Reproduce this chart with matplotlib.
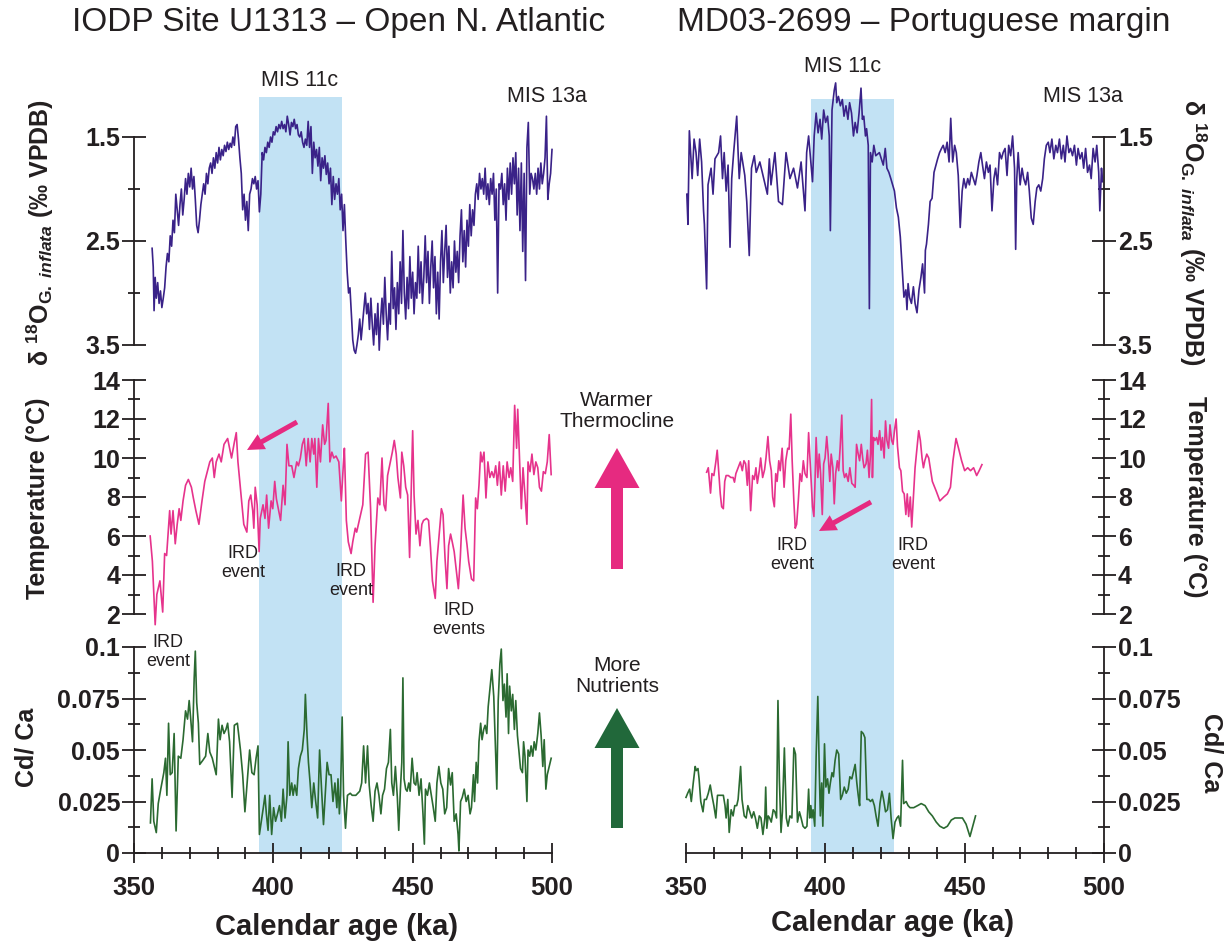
import matplotlib
matplotlib.use('Agg')
import matplotlib.pyplot as plt
from matplotlib.patches import FancyArrow

# ---- data ----
mis11c = (394.8, 424.5)

# IODP U1313 (left)
l_d18_age = [356.5, 356.9, 357.2, 357.6, 358.0, 358.5, 359.0, 359.5, 360.0, 360.5, 361.0, 361.5, 362.0, 362.5,
             363.0, 363.5, 364.0, 364.5, 365.0, 365.5, 366.0, 366.5, 367.0, 367.5, 368.0, 368.5, 369.0, 369.5,
             370.0, 370.5, 371.0, 371.5, 372.0, 372.5, 373.0, 373.5, 374.0, 374.5, 375.0, 375.5, 376.0, 376.5,
             377.0, 377.5, 378.0, 378.5, 379.0, 379.5, 380.0, 380.5, 381.0, 381.5, 382.0, 382.5, 383.0, 383.5,
             384.0, 384.5, 385.0, 385.5, 386.0, 386.5, 387.0, 387.5, 388.0, 388.5, 389.0, 389.5, 390.0, 390.5,
             391.0, 391.5, 392.0, 392.5, 393.0, 393.5, 394.0, 394.5, 395.0, 395.5, 396.0, 396.5, 397.0, 397.5,
             398.0, 398.5, 399.0, 399.5, 400.0, 400.5, 401.0, 401.5, 402.0, 402.5, 403.0, 403.5, 404.0, 404.5,
             405.0, 405.5, 406.0, 406.5, 407.0, 407.5, 408.0, 408.5, 409.0, 409.5, 410.0, 410.5, 411.0, 411.5,
             412.0, 412.5, 413.0, 413.5, 414.0, 414.5, 415.0, 415.5, 416.0, 416.5, 417.0, 417.5, 418.0, 418.5,
             419.0, 419.5, 420.0, 420.5, 421.0, 421.5, 422.0, 422.5, 423.0, 423.5, 424.0, 424.5, 425.0, 425.5,
             426.0, 426.5, 427.0, 427.5, 428.0, 428.5, 429.0, 429.5, 430.0, 430.5, 431.0, 431.5, 432.0, 432.5,
             433.0, 433.5, 434.0, 434.5, 435.0, 435.5, 436.0, 436.5, 437.0, 437.5, 438.0, 438.5, 439.0, 439.5,
             440.0, 440.5, 441.0, 441.5, 442.0, 442.5, 443.0, 443.5, 444.0, 444.5, 445.0, 445.5, 446.0, 446.5,
             447.0, 447.5, 448.0, 448.5, 449.0, 449.5, 450.0, 450.5, 451.0, 451.5, 452.0, 452.5, 453.0, 453.5,
             454.0, 454.5, 455.0, 455.5, 456.0, 456.5, 457.0, 457.5, 458.0, 458.5, 459.0, 459.5, 460.0, 460.5,
             461.0, 461.5, 462.0, 462.5, 463.0, 463.5, 464.0, 464.5, 465.0, 465.5, 466.0, 466.5, 467.0, 467.5,
             468.0, 468.5, 469.0, 469.5, 470.0, 470.5, 471.0, 471.5, 472.0, 472.5, 473.0, 473.5, 474.0, 474.5,
             475.0, 475.5, 476.0, 476.5, 477.0, 477.5, 478.0, 478.5, 479.0, 479.5, 480.0, 480.5, 481.0, 481.5,
             482.0, 482.5, 483.0, 483.5, 484.0, 484.5, 485.0, 485.5, 486.0, 486.5, 487.0, 487.5, 488.0, 488.5,
             489.0, 489.5, 490.0, 490.5, 491.0, 491.5, 492.0, 492.5, 493.0, 493.5, 494.0, 494.5, 495.0, 495.5,
             496.0, 496.5, 497.0, 497.5, 498.0, 498.5, 499.0, 499.5, 500.0]
l_d18 = [2.57, 2.75, 3.17, 2.85, 3.05, 2.90, 3.10, 2.98, 3.14, 3.05, 2.95, 2.75, 2.62, 2.70,
         2.45, 2.55, 2.30, 2.42, 2.05, 2.20, 2.35, 2.15, 2.00, 2.25, 2.10, 1.90, 2.05, 1.85,
         1.98, 1.80, 2.00, 1.88, 2.10, 2.35, 2.42, 2.30, 2.15, 2.05, 1.95, 2.05, 1.85, 1.95,
         1.80, 1.75, 1.85, 1.70, 1.80, 1.65, 1.75, 1.60, 1.72, 1.62, 1.68, 1.58, 1.64, 1.55,
         1.62, 1.56, 1.60, 1.50, 1.58, 1.40, 1.38, 1.52, 1.70, 1.85, 2.20, 2.05, 2.30, 2.12,
         2.40, 2.05, 2.00, 1.90, 1.95, 1.88, 2.00, 1.92, 2.22, 2.05, 1.65, 1.72, 1.60, 1.65,
         1.55, 1.60, 1.50, 1.55, 1.45, 1.48, 1.40, 1.45, 1.38, 1.42, 1.35, 1.42, 1.38, 1.45,
         1.30, 1.38, 1.48, 1.36, 1.40, 1.33, 1.42, 1.38, 1.48, 1.50, 1.45, 1.55, 1.60, 1.52,
         1.58, 1.35, 1.60, 1.40, 1.85, 1.55, 1.70, 1.62, 1.78, 1.60, 1.92, 1.70, 1.80, 1.68,
         1.86, 1.75, 1.95, 1.80, 2.15, 1.88, 2.10, 1.95, 2.05, 1.90, 2.20, 2.05, 2.40, 2.15,
         2.50, 2.80, 3.00, 2.95, 3.20, 3.45, 3.55, 3.58, 3.50, 3.40, 3.25, 3.45, 3.30, 3.15,
         3.00, 3.20, 3.10, 3.35, 3.05, 3.30, 3.50, 3.20, 3.40, 3.10, 3.55, 3.25, 3.05, 3.30,
         2.85, 3.20, 3.45, 3.10, 3.30, 2.60, 3.15, 2.95, 3.35, 2.90, 3.20, 2.70, 3.10, 2.40,
         3.00, 3.25, 2.85, 3.15, 2.65, 3.05, 2.80, 3.20, 2.90, 3.05, 2.55, 3.00, 2.70, 3.10,
         2.85, 2.45, 2.90, 2.60, 3.10, 2.75, 2.50, 2.95, 2.65, 3.20, 2.80, 3.25, 2.70, 2.40,
         2.90, 2.60, 2.35, 2.85, 2.55, 3.00, 2.70, 2.95, 2.50, 2.80, 2.60, 2.90, 2.45, 2.20,
         2.70, 2.40, 2.75, 2.30, 2.55, 2.15, 2.45, 2.20, 2.35, 2.05, 1.95, 2.10, 1.85, 2.00,
         1.90, 2.05, 1.80, 2.10, 1.95, 2.15, 1.90, 2.05, 1.85, 2.30, 2.00, 3.00, 1.95, 2.00,
         1.85, 2.15, 1.95, 2.30, 1.80, 2.10, 1.75, 2.05, 1.70, 1.95, 1.65, 2.25, 1.80, 2.40,
         1.75, 2.60, 1.85, 2.88, 1.60, 1.36, 2.05, 1.85, 1.90, 2.00, 1.85, 2.05, 1.80, 2.00,
         1.75, 1.95, 1.85, 1.70, 1.30, 2.10, 1.95, 1.85, 1.62]

l_t_age = [355.8, 356.6, 357.6, 358.2, 359.3, 360.3, 361.0, 361.7, 362.8, 363.3, 364.0, 364.8, 365.5, 366.2,
           366.8, 367.6, 368.5, 369.5, 370.6, 371.3, 372.2, 373.3, 374.4, 375.4, 377.2, 378.1, 378.8, 379.5,
           380.5, 381.3, 382.3, 383.6, 384.3, 385.0, 386.0, 386.7, 387.3, 388.4, 389.4, 390.5, 391.2, 391.9,
           392.6, 393.0, 393.5, 394.2, 394.9, 395.3, 396.3, 397.0, 397.6, 398.3, 399.2, 399.8, 400.5, 401.1,
           401.8, 402.6, 403.5, 404.2, 404.9, 405.6, 406.6, 407.4, 408.4, 409.0, 409.7, 410.4, 411.1, 411.8,
           412.5, 413.2, 413.8, 414.5, 414.9, 415.6, 416.2, 416.9, 417.7, 418.4, 418.9, 419.7, 420.3, 421.0,
           421.7, 422.5, 423.5, 424.4, 425.1, 425.5, 426.2, 426.9, 427.9, 428.5, 429.4, 429.9, 431.0, 432.1,
           433.1, 434.0, 434.9, 435.8, 436.5, 437.5, 438.2, 439.0, 439.7, 440.3, 441.0, 442.0, 442.7, 443.4,
           444.1, 444.7, 445.6, 446.1, 446.8, 447.5, 448.2, 448.9, 449.6, 450.0, 450.5, 451.2, 451.9, 452.6,
           453.3, 453.9, 455.0, 455.7, 456.4, 457.1, 458.1, 458.7, 459.6, 460.3, 460.9, 461.6, 462.3, 462.9,
           463.6, 464.2, 464.9, 465.6, 466.4, 467.1, 468.1, 468.8, 469.5, 470.1, 471.1, 471.9, 472.6, 473.2,
           473.8, 474.4, 474.9, 475.6, 476.3, 477.0, 477.7, 478.4, 479.1, 479.8, 480.4, 481.1, 481.8, 482.5,
           483.2, 483.9, 484.6, 485.2, 485.9, 486.6, 487.3, 487.7, 488.4, 489.0, 489.6, 490.3, 491.0, 491.4,
           492.1, 492.8, 493.5, 494.2, 494.9, 495.5, 496.2, 496.9, 497.6, 498.3, 499.0, 499.7]
l_t = [6.0, 4.7, 1.45, 3.0, 3.7, 2.1, 5.1, 5.0, 7.3, 6.1, 7.3, 5.6, 6.6, 7.4,
       6.8, 7.8, 8.6, 8.9, 8.5, 7.95, 7.3, 6.6, 7.8, 8.8, 9.8, 10.0, 9.0, 9.8,
       10.2, 9.8, 10.7, 11.0, 10.5, 10.0, 10.8, 11.3, 9.8, 8.1, 6.6, 6.2, 7.8, 8.1,
       7.3, 6.4, 8.5, 7.6, 5.2, 6.9, 7.6, 6.9, 8.1, 6.4, 7.8, 7.4, 8.8, 7.9,
       7.4, 6.8, 8.6, 7.6, 10.7, 9.6, 9.6, 9.0, 9.8, 9.6, 10.0, 10.7, 11.0, 9.6,
       11.0, 9.8, 11.0, 10.2, 11.0, 8.5, 11.0, 9.8, 11.7, 10.7, 10.9, 12.8, 9.8, 10.3,
       10.0, 10.1, 9.8, 7.8, 9.6, 10.5, 6.8, 5.7, 5.1, 5.7, 6.4, 6.2, 6.9, 7.6,
       10.2, 10.3, 7.4, 2.6, 5.5, 7.95, 7.6, 10.0, 7.6, 7.3, 9.1, 9.8, 10.3, 10.9,
       10.2, 9.0, 7.95, 10.3, 9.6, 8.5, 8.1, 4.9, 9.0, 11.4, 8.1, 6.1, 6.8, 5.5,
       6.6, 6.8, 6.9, 6.8, 5.4, 3.7, 2.8, 4.7, 6.2, 7.4, 7.1, 4.9, 3.3, 5.5,
       6.1, 5.7, 5.2, 4.3, 3.3, 4.9, 8.1, 6.4, 5.55, 4.7, 3.8, 3.7, 7.95, 7.4,
       8.6, 10.3, 9.8, 10.3, 7.95, 9.8, 9.0, 9.3, 9.0, 9.6, 8.6, 9.8, 8.1, 9.6,
       8.3, 9.8, 9.0, 9.5, 8.8, 12.7, 10.5, 12.5, 9.8, 7.4, 9.5, 8.1, 6.6, 9.8,
       9.3, 10.2, 9.15, 9.8, 9.5, 8.5, 8.3, 9.3, 9.2, 9.8, 11.2, 9.15]

l_cd_age = [355.9, 356.5, 357.1, 358.0, 358.7, 359.6, 360.7, 361.3, 361.8, 362.4, 363.0, 363.7, 364.4, 365.1,
            365.9, 366.8, 367.6, 368.5, 369.2, 369.8, 370.3, 371.0, 371.6, 372.0, 372.5, 373.1, 373.6, 374.7,
            375.7, 376.5, 377.2, 378.1, 378.8, 379.5, 380.3, 380.9, 381.6, 382.3, 383.0, 383.6, 384.3, 385.2,
            386.0, 387.1, 388.2, 389.0, 389.8, 390.6, 391.5, 392.3, 393.1, 393.8, 394.5, 395.0, 395.7, 396.4,
            397.0, 397.5, 398.1, 398.7, 399.4, 400.1, 400.8, 401.5, 402.2, 402.9, 403.5, 404.2, 404.9, 405.3,
            405.9, 406.6, 407.1, 407.7, 408.4, 409.0, 409.7, 410.4, 411.1, 411.5, 412.1, 412.6, 413.2, 413.8,
            414.5, 415.2, 415.9, 416.6, 417.3, 418.0, 418.6, 419.3, 420.0, 420.7, 421.4, 422.1, 422.8, 423.2,
            423.7, 424.1, 424.7, 425.2, 425.9, 426.6, 427.6, 428.3, 429.6, 431.0, 431.7, 432.4, 433.1, 433.8,
            434.4, 435.1, 435.8, 436.5, 437.2, 437.9, 438.6, 439.2, 439.9, 440.6, 441.3, 442.0, 442.5, 443.1,
            443.8, 444.5, 445.0, 445.6, 446.1, 446.5, 446.9, 447.5, 448.0, 448.6, 449.1, 449.8, 450.5, 451.1,
            451.6, 452.3, 453.0, 453.7, 454.2, 454.6, 455.3, 456.0, 456.7, 457.4, 458.1, 458.7, 459.4, 460.1,
            460.8, 461.5, 462.2, 462.9, 463.6, 464.2, 464.9, 465.6, 466.3, 466.6, 467.2, 467.8, 468.5, 469.2,
            469.9, 470.6, 471.1, 471.8, 472.2, 472.8, 473.3, 473.8, 474.4, 474.9, 475.5, 476.0, 476.6, 477.1,
            477.8, 478.4, 479.1, 479.6, 480.2, 480.7, 481.3, 481.8, 482.4, 482.9, 483.5, 483.9, 484.4, 484.8,
            485.4, 485.9, 486.5, 487.0, 487.6, 488.1, 488.7, 489.4, 489.8, 490.3, 491.0, 491.4, 492.0, 492.5,
            493.1, 493.6, 494.2, 494.9, 495.5, 496.1, 496.7, 497.2, 497.8, 498.3, 499.0, 499.7]
l_cd = [0.0146, 0.036, 0.0154, 0.0099, 0.024, 0.031, 0.039, 0.046, 0.028, 0.063, 0.038, 0.039, 0.058, 0.0107,
        0.047, 0.046, 0.055, 0.069, 0.065, 0.074, 0.066, 0.054, 0.085, 0.098, 0.073, 0.063, 0.043, 0.045,
        0.047, 0.058, 0.049, 0.046, 0.042, 0.038, 0.065, 0.055, 0.062, 0.058, 0.060, 0.063, 0.054, 0.027,
        0.062, 0.063, 0.050, 0.038, 0.020, 0.034, 0.050, 0.039, 0.038, 0.046, 0.052, 0.009, 0.0154, 0.022,
        0.028, 0.019, 0.011, 0.028, 0.009, 0.022, 0.0154, 0.019, 0.023, 0.0154, 0.031, 0.017, 0.028, 0.054,
        0.028, 0.034, 0.028, 0.033, 0.028, 0.041, 0.047, 0.050, 0.060, 0.077, 0.057, 0.044, 0.034, 0.022,
        0.034, 0.025, 0.017, 0.050, 0.031, 0.0138, 0.028, 0.044, 0.038, 0.038, 0.025, 0.034, 0.022, 0.036,
        0.019, 0.028, 0.066, 0.028, 0.012, 0.028, 0.029, 0.028, 0.028, 0.030, 0.034, 0.052, 0.034, 0.052,
        0.033, 0.023, 0.0154, 0.030, 0.034, 0.028, 0.019, 0.028, 0.031, 0.041, 0.044, 0.060, 0.034, 0.028,
        0.042, 0.027, 0.011, 0.031, 0.044, 0.085, 0.036, 0.031, 0.030, 0.034, 0.030, 0.046, 0.034, 0.033,
        0.039, 0.028, 0.036, 0.019, 0.0043, 0.031, 0.028, 0.034, 0.028, 0.022, 0.0154, 0.034, 0.042, 0.034,
        0.031, 0.019, 0.022, 0.041, 0.033, 0.039, 0.0154, 0.019, 0.009, 0.001, 0.025, 0.027, 0.031, 0.025,
        0.028, 0.019, 0.022, 0.038, 0.025, 0.044, 0.034, 0.054, 0.063, 0.055, 0.060, 0.062, 0.058, 0.071,
        0.081, 0.089, 0.076, 0.055, 0.031, 0.074, 0.092, 0.099, 0.074, 0.082, 0.066, 0.087, 0.058, 0.081,
        0.069, 0.077, 0.060, 0.074, 0.057, 0.050, 0.041, 0.039, 0.054, 0.047, 0.025, 0.050, 0.047, 0.052,
        0.047, 0.054, 0.050, 0.058, 0.068, 0.057, 0.042, 0.055, 0.031, 0.038, 0.042, 0.046]

# MD03-2699 (right)
r_d18_age = [350.3, 350.7, 351.2, 352.2, 352.9, 353.6, 354.2, 354.9, 355.6, 356.3, 356.6, 357.4, 357.9, 359.0,
             359.7, 360.4, 361.7, 362.4, 363.1, 363.7, 364.4, 365.1, 365.8, 366.4, 367.1, 368.2, 368.7, 369.1,
             369.8, 371.1, 371.8, 372.7, 373.5, 374.5, 375.2, 376.5, 377.9, 379.2, 379.9, 380.5, 381.9, 383.2,
             384.6, 385.9, 387.3, 388.6, 390.0, 391.3, 392.7, 393.3, 394.0, 394.7, 395.4, 396.0, 396.7, 397.4,
             398.1, 398.7, 399.4, 400.1, 400.8, 401.4, 401.8, 402.4, 403.2, 403.7, 404.1, 404.7, 405.4, 406.1,
             406.7, 407.4, 408.1, 408.7, 409.4, 410.1, 410.7, 411.4, 412.1, 412.8, 413.3, 413.8, 414.4, 414.8,
             415.4, 415.8, 416.2, 416.8, 417.4, 418.1, 419.4, 420.8, 421.5, 422.1, 422.8, 423.5, 424.8, 425.5,
             426.2, 426.9, 427.5, 428.2, 428.9, 429.3, 429.7, 430.2, 430.9, 431.6, 432.2, 432.9, 433.6, 434.3,
             434.9, 435.6, 435.9, 436.3, 437.0, 437.6, 438.3, 439.0, 439.7, 440.3, 441.0, 441.7, 442.3, 443.0,
             443.7, 444.4, 445.0, 445.7, 446.4, 447.0, 447.7, 448.4, 449.1, 449.7, 450.4, 451.1, 451.7, 452.4,
             453.1, 453.8, 454.4, 455.1, 455.8, 456.4, 457.1, 457.8, 458.5, 459.1, 459.8, 460.5, 461.1, 461.8,
             462.5, 463.2, 463.8, 464.5, 465.2, 465.8, 466.5, 467.2, 467.9, 468.3, 468.7, 469.2, 469.9, 470.6,
             471.2, 471.9, 472.6, 473.2, 473.9, 474.6, 475.3, 475.9, 476.6, 477.3, 478.0, 478.6, 479.3, 480.0,
             480.6, 481.3, 482.0, 482.7, 483.3, 484.0, 484.7, 485.4, 486.0, 486.7, 487.4, 488.0, 488.7, 489.4,
             490.1, 490.7, 491.4, 492.1, 492.7, 493.4, 494.1, 494.8, 495.4, 496.1, 496.8, 497.4, 498.1, 498.5,
             499.1, 499.5]
r_d18 = [2.05, 2.34, 1.44, 1.90, 1.52, 1.65, 1.87, 1.52, 1.74, 2.21, 2.34, 2.96, 1.96, 1.80,
         2.05, 1.71, 1.65, 1.49, 1.90, 1.65, 2.02, 1.77, 2.56, 1.90, 1.65, 1.30, 1.65, 1.90,
         1.65, 1.87, 2.12, 2.64, 1.80, 1.68, 1.84, 1.74, 1.90, 2.05, 1.71, 1.96, 1.65, 2.12,
         2.15, 1.65, 1.90, 1.80, 1.99, 1.74, 2.21, 1.65, 1.49, 1.71, 1.93, 1.49, 1.27, 1.46,
         1.33, 1.52, 1.24, 1.36, 1.30, 1.49, 2.40, 1.24, 1.05, 0.98, 1.17, 1.11, 1.20, 1.14,
         1.30, 1.20, 1.33, 1.17, 1.27, 1.49, 1.36, 1.46, 1.27, 1.03, 1.33, 1.30, 1.49, 1.42,
         1.58, 3.15, 1.65, 1.74, 1.58, 1.68, 1.65, 1.77, 1.61, 1.80, 1.84, 1.90, 2.02, 2.18,
         2.27, 2.46, 2.72, 3.04, 2.97, 3.16, 2.91, 3.04, 3.10, 2.94, 3.10, 3.19, 2.97, 2.85,
         2.72, 3.00, 2.59, 2.53, 2.34, 2.12, 2.09, 1.84, 1.77, 1.71, 1.65, 1.61, 1.58, 1.65,
         1.55, 1.74, 1.32, 1.74, 1.58, 1.65, 1.87, 2.37, 2.02, 1.90, 1.99, 1.90, 1.96, 1.84,
         1.90, 1.96, 1.87, 1.74, 1.65, 1.77, 1.90, 1.74, 1.84, 1.77, 2.21, 1.90, 1.80, 1.96,
         1.65, 1.71, 1.65, 1.61, 1.87, 1.58, 1.68, 1.49, 1.80, 2.58, 1.90, 1.65, 1.96, 1.80,
         1.90, 1.96, 1.84, 2.02, 2.28, 2.34, 2.12, 1.99, 1.96, 2.02, 1.90, 1.71, 1.58, 1.55,
         1.65, 1.52, 1.71, 1.58, 1.65, 1.52, 1.71, 1.58, 1.74, 1.49, 1.65, 1.61, 1.68, 1.58,
         1.77, 1.61, 1.71, 1.65, 1.80, 1.61, 1.84, 1.77, 1.90, 1.61, 1.74, 1.58, 1.84, 2.21,
         1.80, 1.93]

r_t_age = [357.4, 358.0, 358.8, 359.3, 360.0, 360.7, 361.2, 361.7, 362.3, 362.8, 363.4, 363.9, 364.4, 365.2,
           366.1, 366.9, 367.4, 367.9, 368.7, 369.5, 370.2, 370.8, 371.4, 372.0, 372.5, 373.2, 373.9, 374.5,
           375.1, 375.6, 376.3, 376.8, 377.5, 378.2, 378.7, 379.4, 380.0, 380.6, 381.1, 381.7, 382.2, 382.7,
           383.3, 383.8, 384.5, 385.2, 385.8, 386.5, 387.0, 387.6, 388.1, 388.7, 389.2, 389.7, 390.3, 390.9,
           391.5, 392.1, 392.7, 393.4, 394.0, 394.7, 395.4, 395.9, 396.3, 396.7, 397.3, 397.8, 398.3, 398.9,
           399.4, 399.9, 400.5, 401.0, 401.6, 402.1, 402.7, 403.2, 403.7, 404.3, 404.8, 405.3, 405.9, 406.4,
           406.9, 407.5, 408.2, 408.8, 409.5, 410.2, 410.7, 411.2, 411.8, 412.3, 412.9, 413.4, 413.9, 414.6,
           415.1, 415.7, 416.2, 416.6, 416.9, 417.3, 417.8, 418.4, 418.9, 419.5, 420.0, 420.5, 421.1, 421.6,
           422.1, 422.7, 423.2, 423.8, 424.3, 424.8, 425.4, 425.9, 426.6, 427.1, 427.7, 428.3, 428.9, 429.4,
           429.9, 430.5, 431.0, 431.6, 432.2, 432.9, 433.5, 434.1, 434.7, 435.2, 435.7, 436.4, 437.1, 437.8,
           438.4, 439.8, 441.1, 442.5, 443.8, 444.9, 445.8, 446.9, 447.8, 448.9, 450.0, 451.1, 452.1, 453.2,
           454.3, 455.2, 456.2]
r_t = [9.27, 9.5, 8.2, 9.2, 9.1, 9.8, 10.4, 9.35, 8.16, 7.5, 7.4, 8.8, 9.1, 9.1,
       9.0, 9.0, 8.76, 9.2, 9.5, 9.8, 9.35, 9.86, 9.7, 8.6, 9.86, 7.3, 9.1, 8.9,
       9.5, 8.7, 9.35, 10.0, 9.0, 9.4, 10.0, 11.1, 9.86, 9.35, 8.0, 7.5, 9.2, 8.8,
       9.86, 9.35, 10.5, 8.5, 9.86, 10.5, 10.45, 12.25, 9.86, 7.8, 6.4, 6.6, 7.8, 9.2,
       8.8, 9.86, 9.2, 9.0, 11.3, 9.35, 7.5, 7.0, 8.8, 11.05, 9.0, 10.2, 9.2, 7.1,
       9.7, 10.0, 11.1, 10.2, 8.8, 10.2, 9.5, 7.65, 9.2, 9.86, 9.35, 10.5, 12.2, 9.35,
       9.0, 9.2, 8.8, 9.5, 8.7, 8.6, 8.5, 10.7, 10.2, 9.86, 10.7, 10.0, 9.5, 9.7,
       10.4, 9.0, 10.2, 13.0, 9.0, 11.05, 10.9, 11.05, 10.7, 11.4, 10.4, 11.05, 10.0, 11.9,
       10.9, 10.5, 11.7, 10.9, 10.7, 11.4, 12.0, 10.6, 9.5, 9.35, 8.3, 8.16, 7.1, 8.16,
       7.0, 8.0, 6.46, 8.0, 9.5, 10.5, 11.4, 10.9, 10.0, 9.5, 9.86, 10.2, 10.0, 9.35,
       8.8, 8.3, 7.8, 8.0, 8.16, 8.5, 9.86, 11.0, 10.5, 9.86, 9.35, 9.5, 9.35, 9.5,
       9.1, 9.35, 9.66]

r_cd_age = [350.0, 350.6, 351.3, 351.9, 352.6, 353.3, 353.7, 354.3, 354.7, 355.3, 356.1, 356.6, 357.3, 358.0,
            358.7, 359.3, 360.0, 360.7, 361.3, 362.0, 362.7, 363.4, 364.0, 364.4, 365.0, 365.5, 366.2, 366.9,
            367.5, 368.2, 368.7, 369.6, 370.1, 370.9, 371.6, 372.2, 372.9, 373.6, 374.3, 374.9, 375.6, 376.3,
            376.9, 377.6, 378.3, 378.6, 379.0, 379.5, 380.0, 380.6, 381.3, 381.9, 382.5, 383.0, 383.5, 384.1,
            384.6, 385.3, 386.0, 386.6, 387.3, 388.0, 388.7, 389.3, 390.0, 390.7, 391.3, 392.0, 392.7, 393.4,
            394.0, 394.4, 394.8, 395.2, 395.6, 396.2, 396.7, 397.3, 397.8, 398.2, 398.7, 399.1, 399.7, 400.2,
            400.8, 401.3, 401.8, 402.4, 402.9, 403.5, 404.1, 404.8, 405.5, 406.1, 406.8, 407.5, 408.2, 408.8,
            409.5, 410.2, 410.7, 411.3, 411.8, 412.3, 412.9, 413.6, 414.2, 414.9, 415.6, 416.2, 416.9, 417.6,
            418.2, 418.9, 419.6, 420.3, 420.9, 421.6, 422.3, 423.0, 423.6, 424.3, 425.0, 425.7, 426.3, 427.0,
            427.7, 428.1, 429.0, 429.7, 430.4, 431.7, 433.1, 434.4, 435.8, 437.1, 438.4, 439.8, 441.1, 442.5,
            443.8, 445.2, 446.5, 447.8, 449.2, 450.5, 451.9, 452.9, 453.9]
r_cd = [0.027, 0.029, 0.031, 0.025, 0.034, 0.042, 0.040, 0.041, 0.036, 0.025, 0.020, 0.026, 0.026, 0.029,
        0.033, 0.028, 0.023, 0.017, 0.028, 0.028, 0.028, 0.028, 0.023, 0.017, 0.026, 0.010, 0.021, 0.018,
        0.023, 0.023, 0.026, 0.042, 0.026, 0.018, 0.017, 0.023, 0.020, 0.017, 0.020, 0.017, 0.012, 0.018,
        0.017, 0.009, 0.017, 0.032, 0.012, 0.018, 0.017, 0.015, 0.021, 0.020, 0.017, 0.074, 0.036, 0.010,
        0.020, 0.051, 0.017, 0.013, 0.018, 0.017, 0.051, 0.048, 0.015, 0.020, 0.017, 0.013, 0.012, 0.013,
        0.031, 0.017, 0.023, 0.017, 0.021, 0.013, 0.047, 0.076, 0.042, 0.018, 0.034, 0.013, 0.053, 0.032,
        0.036, 0.029, 0.034, 0.039, 0.037, 0.045, 0.050, 0.048, 0.026, 0.028, 0.032, 0.029, 0.031, 0.037,
        0.036, 0.040, 0.043, 0.034, 0.028, 0.023, 0.059, 0.058, 0.056, 0.026, 0.026, 0.025, 0.026, 0.023,
        0.018, 0.013, 0.024, 0.030, 0.026, 0.020, 0.021, 0.029, 0.017, 0.007, 0.015, 0.017, 0.018, 0.013,
        0.045, 0.024, 0.025, 0.023, 0.022, 0.022, 0.023, 0.024, 0.023, 0.020, 0.018, 0.015, 0.013, 0.012,
        0.013, 0.016, 0.017, 0.017, 0.017, 0.014, 0.008, 0.013, 0.018]

d18_ticks = [1.5, 2.5, 3.5]
d18_minor = [2.0, 3.0]
t_ticks = [2, 4, 6, 8, 10, 12, 14]
t_minor = [3, 5, 7, 9, 11, 13]
cd_ticks = [0, 0.025, 0.05, 0.075, 0.1]
cd_labels = ['0', '0.025', '0.05', '0.075', '0.1']
cd_minor = [0.0125, 0.0375, 0.0625, 0.0875]
age_ticks = [350, 400, 450, 500]
age_minor = [360, 370, 380, 390, 410, 420, 430, 440, 460, 470, 480, 490]

C_D18 = '#3a2288'
C_T = '#e6338c'
C_CD = '#2b6a31'
C_SHADE = '#c2e2f4'
C_TXT = '#231f20'
C_PINK = '#e62a80'
C_GREEN = '#21683a'

plt.rcParams['font.family'] = ['Liberation Sans', 'DejaVu Sans']
plt.rcParams['font.weight'] = 'bold'
plt.rcParams['mathtext.fontset'] = 'custom'
plt.rcParams['mathtext.rm'] = 'Liberation Sans'
plt.rcParams['mathtext.it'] = 'Liberation Sans:italic'
plt.rcParams['mathtext.bf'] = 'Liberation Sans:bold'
plt.rcParams['text.color'] = C_TXT

W, H = 1228, 944
fig = plt.figure(figsize=(W / 100, H / 100), dpi=100)


def px_axes(x0, x1, y0, y1):
    return fig.add_axes([x0 / W, 1 - y1 / H, (x1 - x0) / W, (y1 - y0) / H])


def style(ax, side, bottom):
    ax.patch.set_visible(False)
    for s in ['top', 'bottom', 'left', 'right']:
        ax.spines[s].set_visible(False)
    ax.spines[side].set_visible(True)
    ax.spines[side].set_linewidth(1.3)
    ax.spines[side].set_color(C_TXT)
    if side == 'right':
        ax.yaxis.tick_right()
    else:
        ax.yaxis.tick_left()
    ax.tick_params(axis='y', which='major', direction='inout', length=17, width=1.3,
                   labelsize=18, pad=1.5, colors=C_TXT)
    ax.tick_params(axis='y', which='minor', direction='inout', length=9, width=1.3, colors=C_TXT)
    ax.set_xlim(350, 500)
    if bottom:
        ax.spines['bottom'].set_visible(True)
        ax.spines['bottom'].set_linewidth(1.3)
        ax.spines['bottom'].set_color(C_TXT)
        ax.set_xticks(age_ticks)
        ax.set_xticks(age_minor, minor=True)
        ax.tick_params(axis='x', which='major', direction='inout', length=15, width=1.3,
                       labelsize=18.5, pad=9, colors=C_TXT)
        ax.tick_params(axis='x', which='minor', direction='inout', length=8, width=1.3, colors=C_TXT)
    else:
        ax.xaxis.set_visible(False)


def column(x0, x1, side, shade_top, d18_age, d18, t_age, t, cd_age, cd):
    bg = px_axes(x0, x1, shade_top, 853)
    bg.set_xlim(350, 500)
    bg.set_ylim(0, 1)
    bg.axvspan(mis11c[0], mis11c[1], color=C_SHADE, lw=0)
    bg.axis('off')

    a1 = px_axes(x0, x1, 137, 345)
    a1.plot(d18_age, d18, color=C_D18, lw=1.2, clip_on=False)
    a1.set_ylim(3.5, 1.5)
    a1.set_yticks(d18_ticks)
    a1.set_yticks(d18_minor, minor=True)
    style(a1, side, False)

    a2 = px_axes(x0, x1, 380, 614)
    a2.plot(t_age, t, color=C_T, lw=1.2, clip_on=False)
    a2.set_ylim(2, 14)
    a2.set_yticks(t_ticks)
    a2.set_yticks(t_minor, minor=True)
    style(a2, side, False)

    a3 = px_axes(x0, x1, 647, 853)
    a3.plot(cd_age, cd, color=C_CD, lw=1.2, clip_on=False)
    a3.set_ylim(0, 0.1)
    a3.set_yticks(cd_ticks)
    a3.set_yticklabels(cd_labels)
    a3.set_yticks(cd_minor, minor=True)
    style(a3, side, True)


column(134, 552, 'left', 97, l_d18_age, l_d18, l_t_age, l_t, l_cd_age, l_cd)
column(686, 1104, 'right', 99, r_d18_age, r_d18, r_t_age, r_t, r_cd_age, r_cd)

# overlay in pixel coordinates for labels and arrows
ov = fig.add_axes([0, 0, 1, 1])
ov.set_xlim(0, W)
ov.set_ylim(H, 0)
ov.axis('off')

ov.text(339, 22, 'IODP Site U1313 – Open N. Atlantic', fontsize=24, fontweight='normal',
        ha='center', va='center')
ov.text(924, 22, 'MD03-2699 – Portuguese margin', fontsize=24, fontweight='normal',
        ha='center', va='center')

ov.text(300, 81, 'MIS 11c', fontsize=15.5, fontweight='normal', ha='center', va='center')
ov.text(547, 96, 'MIS 13a', fontsize=15.5, fontweight='normal', ha='center', va='center')
ov.text(843, 66, 'MIS 11c', fontsize=15.5, fontweight='normal', ha='center', va='center')
ov.text(1083, 96, 'MIS 13a', fontsize=15.5, fontweight='normal', ha='center', va='center')

d18_label = 'δ $^{\\mathbf{18}}$O$_{\\mathrm{G.}\\ \\mathit{inflata}}$ (‰ VPDB)'
ov.text(40, 232, d18_label, fontsize=18, rotation=90, ha='center', va='center')
ov.text(38, 498, 'Temperature (°C)', fontsize=18, rotation=90, ha='center', va='center')
ov.text(27, 747, 'Cd/ Ca', fontsize=18, rotation=90, ha='center', va='center')
ov.text(1193, 233, d18_label, fontsize=18, rotation=270, ha='center', va='center')
ov.text(1195, 497, 'Temperature (°C)', fontsize=18, rotation=270, ha='center', va='center')
ov.text(1212, 753, 'Cd/ Ca', fontsize=18, rotation=270, ha='center', va='center')

ov.text(337, 927, 'Calendar age (ka)', fontsize=21, ha='center', va='center')
ov.text(893, 923, 'Calendar age (ka)', fontsize=21, ha='center', va='center')

ird = dict(fontsize=13, fontweight='normal', ha='center', va='center', linespacing=1.15)
ov.text(243, 563, 'IRD\nevent', **ird)
ov.text(351, 581, 'IRD\nevent', **ird)
ov.text(459, 620, 'IRD\nevents', **ird)
ov.text(168, 652, 'IRD\nevent', **ird)
ov.text(792, 555, 'IRD\nevent', **ird)
ov.text(913, 555, 'IRD\nevent', **ird)

ov.text(617, 411, 'Warmer\nThermocline', fontsize=15, fontweight='normal', ha='center',
        va='center', linespacing=1.15)
ov.text(617, 676, 'More\nNutrients', fontsize=15, fontweight='normal', ha='center',
        va='center', linespacing=1.15)

ov.add_patch(FancyArrow(617, 569, 0, -121, width=12, head_width=45, head_length=40,
                        length_includes_head=True, color=C_PINK, lw=0))
ov.add_patch(FancyArrow(617, 828, 0, -120, width=12, head_width=45, head_length=40,
                        length_includes_head=True, color=C_GREEN, lw=0))
ov.add_patch(FancyArrow(297, 422, -50, 28, width=5, head_width=17, head_length=17,
                        length_includes_head=True, color=C_PINK, lw=0))
ov.add_patch(FancyArrow(871, 502, -52, 29, width=5, head_width=17, head_length=17,
                        length_includes_head=True, color=C_PINK, lw=0))

fig.savefig('out.png', dpi=100)
